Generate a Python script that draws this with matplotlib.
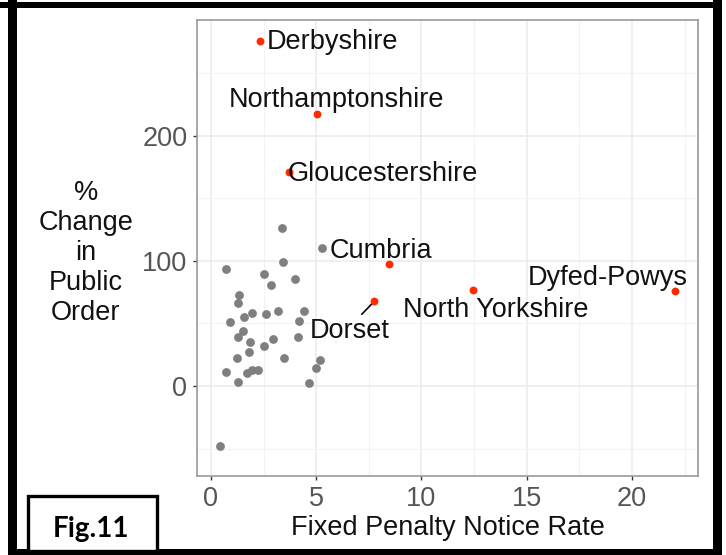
import matplotlib
matplotlib.use("AGG")
import matplotlib.pyplot as plt
from matplotlib.patches import Rectangle

plt.rcParams['font.family'] = ['Liberation Sans', 'DejaVu Sans']

# grey forces (first one is Cumbria, the only labelled grey point)
grey_x = [5.26, 3.36, 3.43, 0.70, 2.50, 4.00, 2.85, 1.32, 1.30, 4.43, 3.18, 2.63,
          1.95, 1.57, 0.89, 4.17, 1.52, 1.30, 4.13, 2.96, 1.87, 2.50, 1.81, 1.24,
          3.48, 5.16, 5.00, 0.70, 1.72, 1.96, 2.23, 1.28, 4.67, 0.44]
grey_y = [110.5, 126, 99, 93.2, 89.5, 85.2, 80.9, 72.7, 66, 59.7, 59.9, 57.7,
          58, 55.1, 50.9, 52.2, 43.7, 39.1, 39.1, 37.3, 35.4, 32.2, 27.4, 22.4,
          22.4, 20.5, 14.1, 10.9, 10.6, 13.0, 12.5, 3.0, 2.2, -47.7]

# highlighted forces
red_names = ["Derbyshire", "Northamptonshire", "Gloucestershire", "",
             "Dorset", "North Yorkshire", "Dyfed-Powys"]
red_x = [2.33, 5.02, 3.72, 8.46, 7.76, 12.46, 22.04]
red_y = [275.8, 217, 170.7, 97.2, 67.6, 76.7, 76.1]

x_ticks = [0, 5, 10, 15, 20]
y_ticks = [0, 100, 200]

W, H = 726, 555
FS = 19.5
fig = plt.figure(figsize=(W / 100, H / 100), dpi=100)


def fx(px):
    return px / W


def fy(py):
    return 1 - py / H


# panel
ax = fig.add_axes([fx(197), fy(476), fx(698) - fx(197), fy(19.5) - fy(476)])
ax.set_xlim(-0.665, 23.14)
ax.set_ylim(-71.9, 292.7)
ax.set_xticks(x_ticks)
ax.set_yticks(y_ticks)
ax.set_xticks([2.5, 7.5, 12.5, 17.5, 22.5], minor=True)
ax.set_yticks([-50, 50, 150, 250], minor=True)
ax.grid(which="major", color="#ebebeb", lw=1.1)
ax.grid(which="minor", color="#f3f3f3", lw=0.8)
ax.set_axisbelow(True)
ax.tick_params(which="major", length=3, width=1, color="#333333",
               labelsize=FS, labelcolor="#555555", pad=4)
ax.tick_params(which="minor", length=0)
for s in ax.spines.values():
    s.set_color("#9a9a9a")
    s.set_linewidth(1.2)

ax.scatter(grey_x, grey_y, s=40, color="#7f7f7f", lw=0, zorder=3)
ax.scatter(red_x, red_y, s=32, color="#ff2a00", lw=0, zorder=3)

# label placement in pixels relative to the point: (dx, dy, ha)
label_pos = {
    "Derbyshire": (7, -8.6, "left"),
    "Northamptonshire": (-87.4, 7, "left"),
    "Gloucestershire": (-2, -8.7, "left"),
    "Dorset": (-64.3, -37, "left"),
    "North Yorkshire": (-70, -26.7, "left"),
    "Dyfed-Powys": (13.3, 5.7, "right"),
}
for name, x, y in zip(red_names, red_x, red_y):
    if not name:
        continue
    dx, dy, ha = label_pos[name]
    ax.annotate(name, (x, y), xytext=(dx, dy), textcoords="offset pixels",
                ha=ha, va="baseline", fontsize=FS, color="#111111", zorder=4)
ax.annotate("Cumbria", (grey_x[0], grey_y[0]), xytext=(7.6, -10.5),
            textcoords="offset pixels", ha="left", va="baseline",
            fontsize=FS, color="#111111", zorder=4)
# Dorset leader line
ax.annotate("", (red_x[4], red_y[4]), xytext=(-12.6, -13), textcoords="offset pixels",
            arrowprops=dict(arrowstyle="-", color="black", lw=1.2, shrinkA=0, shrinkB=3))

fig.text(fx(447.5), fy(528), "Fixed Penalty Notice Rate", ha="center", va="center",
         fontsize=FS, color="#111111")
fig.text(fx(86), fy(253), "%\nChange\nin\nPublic\nOrder", ha="center", va="center",
         fontsize=FS, color="#111111", linespacing=1.2)

# black frame around the figure
for (x0, y0, x1, y1) in [(0, 2, 722, 8), (8, 0, 17, 555), (713, 0, 722, 555), (8, 549, 722, 555)]:
    fig.patches.append(Rectangle((fx(x0), fy(y1)), fx(x1) - fx(x0), fy(y0) - fy(y1),
                                 transform=fig.transFigure, color="black", lw=0))

# Fig.11 box
fig.patches.append(Rectangle((fx(28), fy(551)), fx(157) - fx(28), fy(496) - fy(551),
                             transform=fig.transFigure, facecolor="white",
                             edgecolor="black", lw=2.4))
fig.text(fx(91), fy(529), "Fig.11", ha="center", va="center", fontsize=20,
         fontweight="bold", family=["Lato", "DejaVu Sans"])

fig.savefig("out.png", dpi=100)
